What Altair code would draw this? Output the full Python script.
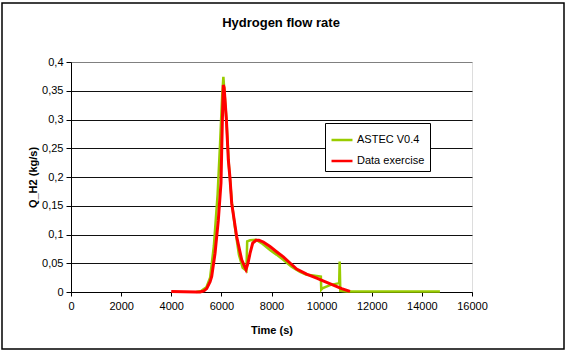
import altair as alt
import pandas as pd

# ASTEC V0.4 series (time s, flow kg/s)
astec_t = [5000, 5200, 5400, 5550, 5700, 5850, 5950, 6030, 6080, 6120, 6200, 6300, 6420,
           6550, 6700, 6850, 7000, 7030, 7150, 7380, 7600, 7940, 8200, 8470, 8800, 9137,
           9400, 9600, 9800, 9970, 9985, 10050, 10335, 10650, 10700, 10720, 10745, 11000,
           12000, 13000, 14000, 14720]
astec_v = [0.0, 0.002, 0.008, 0.025, 0.08, 0.17, 0.26, 0.34, 0.374, 0.35, 0.30, 0.22, 0.155,
           0.11, 0.065, 0.042, 0.037, 0.088, 0.09, 0.091, 0.085, 0.073, 0.065, 0.056, 0.044, 0.035,
           0.030, 0.029, 0.028, 0.027, 0.004, 0.007, 0.012, 0.015, 0.016, 0.053, 0.002, 0.001,
           0.001, 0.001, 0.001, 0.001]

# Data exercise series
data_t = [4000, 4500, 5000, 5150, 5300, 5414, 5550, 5614, 5746, 5878, 5985, 6040, 6078, 6110,
          6200, 6277, 6344, 6412, 6611, 6811, 6982, 7060, 7142, 7250, 7381, 7500, 7674, 7940,
          8200, 8472, 8750, 9004, 9400, 9802, 10130, 10467, 10800, 11132]
data_v = [0.001, 0.0005, 0.0, 0.0, 0.002, 0.006, 0.018, 0.027, 0.067, 0.125, 0.19, 0.30, 0.36, 0.355,
          0.30, 0.23, 0.198, 0.154, 0.096, 0.056, 0.039, 0.05, 0.067, 0.085, 0.09, 0.09, 0.087, 0.079,
          0.07, 0.061, 0.05, 0.04, 0.031, 0.024, 0.018, 0.012, 0.006, 0.001]

series_names = ["ASTEC V0.4", "Data exercise"]
series_colors = ["#99CC00", "#FF0000"]
x_ticks = [0, 2000, 4000, 6000, 8000, 10000, 12000, 14000, 16000]
y_ticks = [0, 0.05, 0.1, 0.15, 0.2, 0.25, 0.3, 0.35, 0.4]
chart_title = "Hydrogen flow rate"

FONT = "Liberation Sans"

df_a = pd.DataFrame({"t": astec_t, "v": astec_v, "series": series_names[0]})
df_d = pd.DataFrame({"t": data_t, "v": data_v, "series": series_names[1]})

x_enc = alt.X("t:Q", scale=alt.Scale(domain=[0, 16000], nice=False),
              axis=alt.Axis(values=x_ticks, format="d", title="Time (s)", grid=False,
                            domainColor="black", tickColor="black", tickSize=4, labelPadding=4,
                            labelFontSize=11, labelFont=FONT, labelColor="black", titleFont=FONT,
                            titleFontSize=11, titleFontWeight="bold", titleColor="black",
                            titleX=200.5, titleY=38, titleBaseline="middle", labelFlush=False))
y_enc = alt.Y("v:Q", scale=alt.Scale(domain=[0, 0.4], nice=False),
              axis=alt.Axis(values=y_ticks, title="Q_H2 (kg/s)", grid=True,
                            gridColor={"condition": {"test": "datum.value >= 0.4", "value": "#808080"},
                                       "value": "#111111"},
                            gridWidth=1, domainColor="black", tickColor="black", tickSize=5,
                            labelPadding=3, labelFontSize=11, labelFont=FONT, labelColor="black",
                            labelExpr="replace(format(datum.value, '.2~f'), '.', ',')",
                            titleFont=FONT, titleFontSize=11, titleFontWeight="bold",
                            titleColor="black", titleX=-38, titleY=115, titleBaseline="middle",
                            labelFlush=False))
color_enc = alt.Color("series:N", scale=alt.Scale(domain=series_names, range=series_colors),
                      legend=alt.Legend(title=None, orient="none", legendX=254, legendY=61,
                                        strokeColor="black", fillColor="white", padding=5,
                                        symbolType="stroke", symbolSize=440, symbolStrokeWidth=2.5,
                                        labelFontSize=11, labelFont=FONT, labelColor="black",
                                        labelOffset=3, rowPadding=4, cornerRadius=0))

green = alt.Chart(df_a).mark_line(strokeWidth=2.5).encode(x=x_enc, y=y_enc, color=color_enc)
red = alt.Chart(df_d).mark_line(strokeWidth=3).encode(x=x_enc, y=y_enc, color=color_enc)

frame = alt.Chart(alt.Data(values=[{"k": 1}])).mark_rect(
    fill=None, stroke="black", strokeWidth=1.5, clip=False
).encode(x=alt.value(-69), x2=alt.value(493), y=alt.value(-59), y2=alt.value(287))

title_txt = alt.Chart(alt.Data(values=[{"label": chart_title}])).mark_text(
    font=FONT, fontSize=13, fontWeight="bold", color="black", align="center",
    baseline="middle"
).encode(text="label:N", x=alt.value(210), y=alt.value(-39))

chart = alt.layer(green, red, frame, title_txt).properties(
    width=401, height=230,
    autosize=alt.AutoSizeParams(type="none"),
    padding={"left": 71, "top": 62, "right": 95, "bottom": 60},
).configure_view(stroke="#808080", strokeWidth=1).configure(background="white")

chart.save("out.html", embed_options={"renderer": "svg", "actions": False})
